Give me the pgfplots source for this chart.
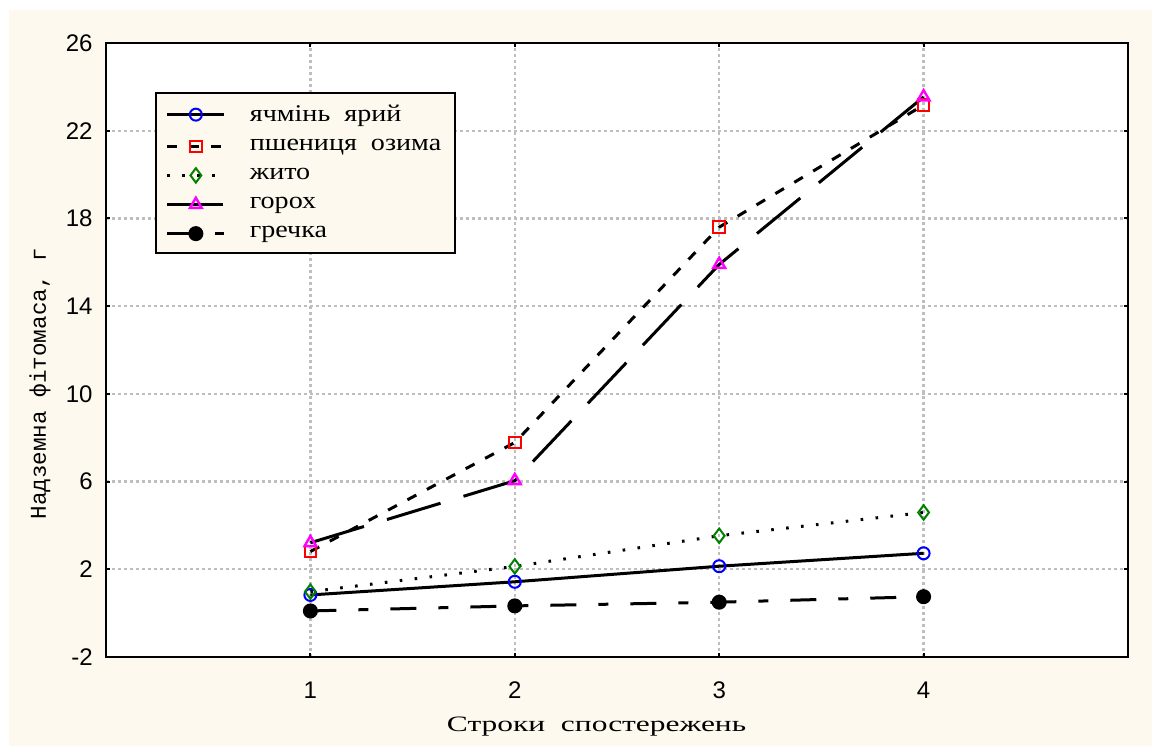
\documentclass[border=0pt]{standalone}
\usepackage{graphicx}
\usepackage{fontspec}
\setmainfont{Liberation Sans}
\newfontfamily\monocyr{Liberation Mono}
\newfontfamily\serifcyr{Liberation Serif}
\usepackage{pgfplots}
\pgfplotsset{compat=1.18}
\definecolor{cream}{RGB}{253,249,239}
\definecolor{gridgray}{RGB}{190,190,190}
\definecolor{mkgreen}{RGB}{0,130,0}
\definecolor{mkmag}{RGB}{255,0,255}
\definecolor{mkblue}{RGB}{0,0,255}
\definecolor{mkred}{RGB}{255,0,0}
\newcommand{\legtxt}[1]{\scalebox{1.17}[1]{\serifcyr\fontsize{12}{14}\selectfont #1}}
\newcommand{\wsp}{\hspace{0.5em}}
\begin{document}
\begin{tikzpicture}[x=1pt,y=1pt]
\fill[white] (0,0) rectangle (576,373);
\fill[cream] (4.5,0) rectangle (576,368);
\begin{axis}[
  at={(53pt,44.5pt)}, anchor=south west,
  scale only axis, width=511pt, height=307pt,
  xmin=0, xmax=5, ymin=-2, ymax=26,
  xtick={1,2,3,4}, ytick={-2,2,6,10,14,18,22,26},
  axis background/.style={fill=white},
  axis line style={line width=1.3pt},
  tick style={line width=1pt, black},
  tick align=inside, major tick length=2pt,
  grid=major,
  major grid style={gridgray, line width=1.2pt, dash pattern=on 1.3pt off 1.7pt},
  /pgf/number format/assume math mode=true,
  ticklabel style={font=\fontsize{12}{14}\selectfont},
  xticklabel style={anchor=center, yshift=-16.5pt},
  yticklabel style={anchor=east, inner sep=0pt, xshift=-6.5pt},
  xlabel={\scalebox{1.43}[1]{Строки\ \ спостережень}},
  xlabel style={at={(axis description cs:0.48,-0.114)}, anchor=center, font=\serifcyr\fontsize{11}{13}\selectfont},
  ylabel={Надземна фітомаса, г},
  ylabel style={at={(axis description cs:-0.0646,0.445)}, anchor=center, font=\monocyr\fontsize{11.3}{13}\selectfont},
  legend cell align=left,
  legend image code/.code={\draw[mark repeat=2,mark phase=2,#1] plot coordinates {(0pt,0pt) (14.25pt,0pt) (28.5pt,0pt)};},
  legend style={at={(rel axis cs:0.048,0.92)}, anchor=north west, fill=cream, draw=black, line width=0.8pt,
    inner xsep=5pt, inner ysep=4pt, row sep=3.4pt,
    /tikz/every even column/.append style={column sep=6pt},
    /tikz/every odd column/.append style={column sep=10pt}},
]
\addplot[black, line width=1.5pt, mark=o, mark size=3pt, mark options={solid, mkblue, line width=1pt, fill=white}]
  coordinates {(1,0.83) (2,1.43) (3,2.14) (4,2.73)};
\addlegendentry{\legtxt{ячмінь\wsp ярий}}
\addplot[black, line width=1.5pt, dash pattern=on 5pt off 6pt, mark=square, mark size=2.9pt, mark options={solid, mkred, line width=1pt, fill=white}]
  coordinates {(1,2.81) (2,7.78) (3,17.6) (4,23.17)};
\addlegendentry{\legtxt{пшениця\wsp озима}}
\addplot[black, line width=1.5pt, dash pattern=on 1.3pt off 6.2pt, mark=diamond, mark size=3.6pt, mark options={solid, mkgreen, line width=1pt, fill=white}]
  coordinates {(1,0.98) (2,2.13) (3,3.53) (4,4.59)};
\addlegendentry{\legtxt{жито}}
\addplot[black, line width=1.5pt, dash pattern=on 28pt off 12pt, mark=triangle, mark size=3.4pt, mark options={solid, mkmag, line width=1.2pt, fill=white}]
  coordinates {(1,3.21) (2,6.04) (3,15.9) (4,23.54)};
\addlegendentry{\legtxt{горох}}
\addplot[black, line width=1.5pt, dash pattern=on 13pt off 11pt on 5pt off 11pt, mark=*, mark size=3pt, mark options={solid, black, fill=black}]
  coordinates {(1,0.10) (2,0.33) (3,0.50) (4,0.75)};
\addlegendentry{\legtxt{гречка}}
\end{axis}
\pgfresetboundingbox
\useasboundingbox (0,0) rectangle (576,373);
\end{tikzpicture}
\end{document}
